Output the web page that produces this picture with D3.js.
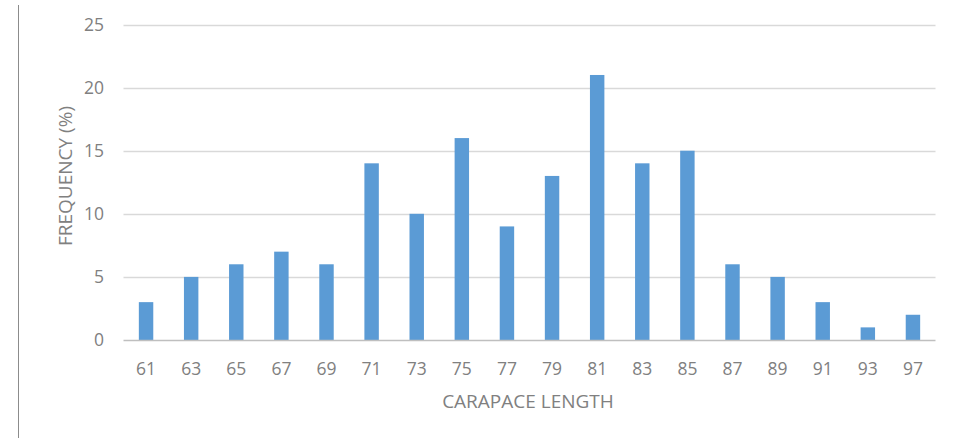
<!DOCTYPE html>
<html><head><meta charset="utf-8">
<script src="https://cdn.jsdelivr.net/npm/d3@7"></script>
<style>body{margin:0;background:#fff;} text{font-family:"Open Sans","Liberation Sans",sans-serif;}</style>
</head><body>
<svg id="c" width="960" height="438"></svg>
<script>
const categories = ["61","63","65","67","69","71","73","75","77","79","81","83","85","87","89","91","93","97"];
const frequency = [3,5,6,7,6,14,10,16,9,13,21,14,15,6,5,3,1,2];
const yTicks = [0,5,10,15,20,25];

const svg = d3.select("#c");
const L = 123.5, R = 935.5, T = 24.5, B = 340;
const x = d3.scaleBand().domain(categories).range([L, R]).paddingInner(0.68).paddingOuter(0.34);
const y = d3.scaleLinear().domain([0, 25]).range([B, T]);

svg.append("line").attr("x1",18.5).attr("x2",18.5).attr("y1",5).attr("y2",438).attr("stroke","#8c8c8c").attr("stroke-width",1);

svg.append("g").selectAll("line").data(yTicks.filter(d=>d>0)).join("line")
  .attr("x1",L).attr("x2",R).attr("y1",d=>Math.round(y(d))+0.5).attr("y2",d=>Math.round(y(d))+0.5)
  .attr("stroke","#d9d9d9").attr("stroke-width",1.3);

svg.append("g").selectAll("text").data(yTicks).join("text")
  .attr("x",104).attr("y",d=>y(d)).attr("dy","0.36em").attr("text-anchor","end")
  .attr("font-size",17.5).attr("fill","#808080").text(d=>d);

svg.append("g").selectAll("rect").data(frequency).join("rect")
  .attr("x",(d,i)=>x(categories[i])).attr("width",x.bandwidth())
  .attr("y",d=>y(d)).attr("height",d=>B-y(d)).attr("fill","#5b9bd5");

svg.append("line").attr("x1",L).attr("x2",R).attr("y1",B+0.5).attr("y2",B+0.5).attr("stroke","#bfbfbf").attr("stroke-width",1.3);

svg.append("g").selectAll("text").data(categories).join("text")
  .attr("x",d=>x(d)+x.bandwidth()/2).attr("y",375).attr("text-anchor","middle")
  .attr("font-size",17.5).attr("fill","#808080").text(d=>d);

svg.append("text").attr("x",528).attr("y",408).attr("text-anchor","middle")
  .attr("font-size",19).attr("fill","#808080").text("CARAPACE LENGTH");

svg.append("text").attr("transform","translate(72,176) rotate(-90)").attr("text-anchor","middle")
  .attr("font-size",19).attr("fill","#808080").text("FREQUENCY (%)");
</script>
</body></html>
